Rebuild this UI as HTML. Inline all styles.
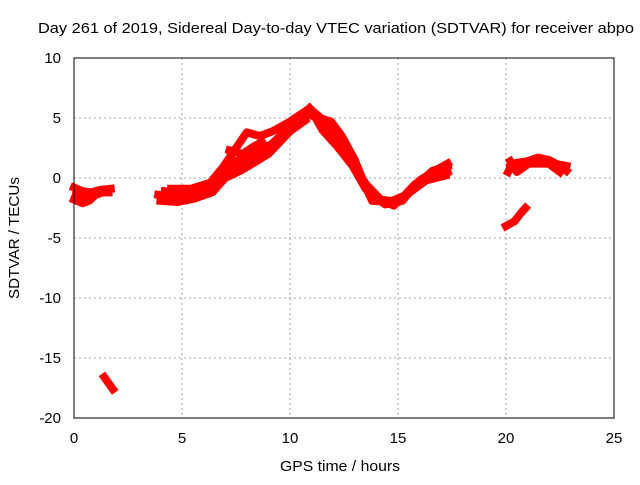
<!DOCTYPE html>
<html><head><meta charset="utf-8"><style>
body{margin:0;background:#fff}
svg text{font-family:"Liberation Sans",sans-serif;font-size:15px;fill:#000}
</style></head><body>
<svg id="chart" width="640" height="480" xmlns="http://www.w3.org/2000/svg">
<text x="38" y="33" textLength="596" lengthAdjust="spacingAndGlyphs">Day 261 of 2019, Sidereal Day-to-day VTEC variation (SDTVAR) for receiver abpo</text>
<text x="340" y="471" text-anchor="middle" textLength="120" lengthAdjust="spacingAndGlyphs">GPS time / hours</text>
<text transform="translate(19,238) rotate(-90)" text-anchor="middle" textLength="122" lengthAdjust="spacingAndGlyphs">SDTVAR / TECUs</text>
<g id="grid"></g><g id="series"></g><g id="axes"></g>
</svg>
<script>
const xTicks=[0,5,10,15,20,25];
const yTicks=[10,5,0,-5,-10,-15,-20];
// tracks: [time, value] pairs
const trackA1=[[0,-0.8],[0.4,-1.1],[0.8,-1.2],[1.2,-1.0],[1.7,-0.9]];
const trackA2=[[0,-1.8],[0.4,-2.1],[0.7,-1.9],[1.0,-1.4],[1.5,-1.1]];
const trackA3=[[0.1,-1.3],[0.6,-1.5],[1.1,-1.2],[1.6,-1.2]];
const trackB=[[1.4,-16.6],[1.6,-17.1],[1.8,-17.6]];
const trackC1=[[3.9,-1.4],[4.6,-1.6],[5.5,-1.3],[6.3,-0.9],[6.9,0.3],[7.7,1.2],[8.9,2.4],[9.9,4.1],[10.8,5.3]];
const trackC2=[[4.0,-1.9],[4.8,-2.0],[5.6,-1.7],[6.4,-1.2],[7.0,0.0],[7.8,0.7],[9.0,2.0],[10.0,3.9],[10.7,4.8]];
const trackC3=[[4.5,-0.9],[5.4,-0.9],[6.3,-0.4],[6.9,0.9],[7.5,2.5],[8.0,3.8],[8.6,3.5],[9.2,3.9],[10.0,4.7],[10.9,5.8]];
const trackC4=[[7.2,2.3],[7.8,2.0],[8.3,2.6],[8.7,3.0]];
const trackC5=[[4.2,-1.1],[5.0,-1.3],[6.0,-1.0],[6.7,0.0],[7.3,1.3],[8.2,1.8],[9.3,3.0],[10.3,4.6]];
const trackD1=[[10.9,5.8],[11.7,4.6],[12.3,3.3],[12.9,1.8],[13.3,0.1],[13.9,-1.6],[14.8,-2.3],[15.6,-1.0],[16.6,0.6],[17.3,1.0]];
const trackD2=[[11.0,5.2],[11.9,4.7],[12.4,3.5],[13.0,1.5],[13.4,-0.3],[14.2,-1.8],[15.0,-2.0],[15.8,-0.5],[16.6,0.2],[17.3,0.5]];
const trackD3=[[11.0,5.6],[11.5,4.0],[12.2,2.6],[12.9,1.0],[13.5,-0.9],[14.4,-2.2],[15.2,-1.9],[16.0,-0.2],[17.0,0.9],[17.3,1.2]];
const trackD4=[[11.2,5.0],[12.0,3.6],[12.7,2.0],[13.2,0.4],[13.8,-1.9],[14.6,-2.0],[15.4,-1.4],[16.3,-0.2],[17.2,0.2]];
const trackE=[[20.0,-4.0],[20.4,-3.6],[20.7,-2.9],[20.9,-2.5]];
const trackF1=[[20.1,0.5],[20.3,1.2],[21.0,1.4],[21.5,1.7],[22.0,1.5],[22.5,1.0],[22.8,0.6]];
const trackF2=[[20.2,1.4],[20.5,0.5],[20.9,1.0],[21.3,1.5],[21.9,1.3],[22.5,0.5]];
const trackF3=[[20.2,0.9],[20.8,1.2],[21.6,1.2],[22.2,1.2],[22.8,1.0]];
const tracks=[trackA1,trackA2,trackA3,trackB,trackC1,trackC2,trackC3,trackC4,trackC5,trackD1,trackD2,trackD3,trackD4,trackE,trackF1,trackF2,trackF3];
const X=t=>74+t*21.6, Y=v=>178-v*12;
const NS='http://www.w3.org/2000/svg';
const grid=document.getElementById('grid'),axes=document.getElementById('axes'),ser=document.getElementById('series');
function mk(tag,at,p){const e=document.createElementNS(NS,tag);for(const k in at)e.setAttribute(k,at[k]);p.appendChild(e);return e;}
xTicks.forEach(t=>{
 if(t>0&&t<25){const g=mk('line',{x1:X(t),x2:X(t),y1:58,y2:418,stroke:'#a0a0a0','stroke-dasharray':'2,3'},grid);
 
 }
 const l=mk('text',{x:X(t),y:443,'text-anchor':'middle'},axes);l.textContent=t;
 
 
});
yTicks.forEach(v=>{
 if(v<10&&v>-20){const g=mk('line',{x1:74,x2:614,y1:Y(v),y2:Y(v),stroke:'#a0a0a0','stroke-dasharray':'2,3'},grid);
 
 }
 const l=mk('text',{x:61,y:Y(v)+5,'text-anchor':'end'},axes);l.textContent=v;
 
 
});
const box=mk('rect',{x:74,y:58,width:540,height:360,fill:'none',stroke:'#000'},axes);


tracks.forEach(tr=>{
 const pl=mk('polyline',{points:tr.map(p=>X(p[0])+','+Y(p[1])).join(' '),fill:'none',stroke:'#ff0000','stroke-width':8,'stroke-linejoin':'round','stroke-linecap':'square'},ser);
 
 
});
</script>
</body></html>
